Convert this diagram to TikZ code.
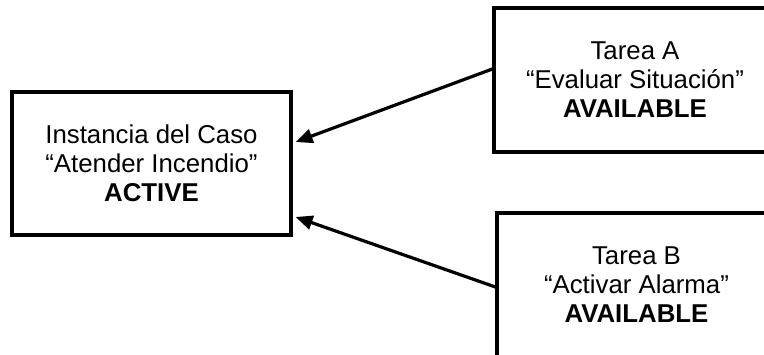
\documentclass[tikz,border=0pt]{standalone}
\usepackage{fontspec}
\setmainfont{Liberation Sans}
\usetikzlibrary{arrows.meta}
\begin{document}
\begin{tikzpicture}[x=1pt,y=1pt,
  statebox/.style={draw=black, line width=3.2pt, fill=white, inner sep=0pt,
    align=center, font=\fontsize{25.8}{29}\selectfont},
  link/.style={line width=3.2pt, -{Triangle[length=17pt,width=14pt]}}]
  \clip (0,0) rectangle (764,354);
  \fill[white] (0,0) rectangle (764,354);
  % case instance
  \node[statebox, minimum width=279pt, minimum height=143pt] (caso) at (151.5,190.5)
    {Instancia del Caso\\“Atender Incendio”\\\textbf{ACTIVE}};
  % tasks, running off the right and bottom edges
  \node[statebox, minimum width=282pt, minimum height=144pt] (tareaA) at (635,274)
    {Tarea A\\“Evaluar Situación”\\\textbf{AVAILABLE}};
  \node[statebox, minimum width=279pt, minimum height=144pt] (tareaB) at (636.5,69)
    {Tarea B\\“Activar Alarma”\\\textbf{AVAILABLE}};
  % connectors
  \coordinate (fromA) at ([yshift=11pt]tareaA.west);
  \coordinate (toA) at ([xshift=3pt,yshift=21.5pt]caso.east);
  \coordinate (fromB) at ([yshift=-2pt]tareaB.west);
  \coordinate (toB) at ([xshift=3pt,yshift=-53.5pt]caso.east);
  \draw[link] (fromA) -- (toA);
  \draw[link] (fromB) -- (toB);
\end{tikzpicture}
\end{document}
